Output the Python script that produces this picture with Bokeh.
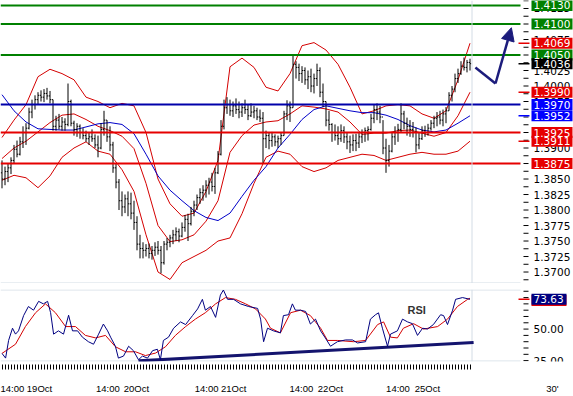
from bokeh.plotting import figure
from bokeh.models import Range1d, FixedTicker, Arrow, NormalHead
from bokeh.layouts import column
from bokeh.embed import file_html
from bokeh.resources import INLINE
from bokeh.core.properties import value

# ---------------- data ----------------
bar = list(range(157))
opens = [1.3860, 1.3850, 1.3862, 1.3868, 1.3880, 1.3898, 1.3890, 1.3910, 1.3925, 1.3932,
         1.3958, 1.3970, 1.3978, 1.3985, 1.3982, 1.3988, 1.3984, 1.3978, 1.3935, 1.3945,
         1.3935, 1.3942, 1.3938, 1.3975, 1.3940, 1.3930, 1.3935, 1.3925, 1.3920, 1.3915,
         1.3918, 1.3915, 1.3905, 1.3900, 1.3930, 1.3945, 1.3918, 1.3905, 1.3868, 1.3845,
         1.3815, 1.3805, 1.3818, 1.3810, 1.3795, 1.3780, 1.3745, 1.3738, 1.3735, 1.3738,
         1.3730, 1.3735, 1.3740, 1.3735, 1.3715, 1.3745, 1.3748, 1.3755, 1.3760, 1.3765,
         1.3758, 1.3772, 1.3785, 1.3778, 1.3798, 1.3808, 1.3820, 1.3828, 1.3832, 1.3840,
         1.3845, 1.3838, 1.3860, 1.3890, 1.3935, 1.3965, 1.3970, 1.3960, 1.3968, 1.3962,
         1.3958, 1.3965, 1.3962, 1.3952, 1.3958, 1.3960, 1.3950, 1.3948, 1.3915, 1.3920,
         1.3912, 1.3918, 1.3910, 1.3915, 1.3920, 1.3955, 1.3968, 1.3965, 1.4035, 1.4030,
         1.4020, 1.4025, 1.4010, 1.4015, 1.4000, 1.4012, 1.4025, 1.3990, 1.3975, 1.3945,
         1.3938, 1.3925, 1.3920, 1.3915, 1.3928, 1.3918, 1.3910, 1.3905, 1.3912, 1.3908,
         1.3918, 1.3925, 1.3928, 1.3930, 1.3948, 1.3962, 1.3958, 1.3950, 1.3900, 1.3880,
         1.3895, 1.3918, 1.3925, 1.3930, 1.3955, 1.3940, 1.3935, 1.3930, 1.3925, 1.3905,
         1.3915, 1.3928, 1.3925, 1.3932, 1.3940, 1.3948, 1.3950, 1.3945, 1.3955, 1.3960,
         1.3985, 1.3995, 1.4012, 1.4020, 1.4032, 1.4030, 1.4038]
highs = [1.3880, 1.3870, 1.3875, 1.3885, 1.3905, 1.3912, 1.3918, 1.3935, 1.3940, 1.3965,
         1.3978, 1.3985, 1.3990, 1.3993, 1.3995, 1.3997, 1.3992, 1.3978, 1.3952, 1.3955,
         1.3950, 1.3948, 1.4004, 1.3978, 1.3944, 1.3940, 1.3938, 1.3932, 1.3928, 1.3925,
         1.3930, 1.3922, 1.3920, 1.3940, 1.3960, 1.3945, 1.3935, 1.3910, 1.3875, 1.3850,
         1.3830, 1.3825, 1.3830, 1.3828, 1.3815, 1.3790, 1.3760, 1.3748, 1.3745, 1.3746,
         1.3742, 1.3748, 1.3750, 1.3742, 1.3750, 1.3755, 1.3760, 1.3768, 1.3772, 1.3770,
         1.3780, 1.3792, 1.3794, 1.3805, 1.3815, 1.3825, 1.3835, 1.3840, 1.3848, 1.3852,
         1.3860, 1.3868, 1.3895, 1.3945, 1.3978, 1.3982, 1.3978, 1.3975, 1.3980, 1.3975,
         1.3972, 1.3978, 1.3970, 1.3972, 1.3968, 1.3965, 1.3962, 1.3958, 1.3928, 1.3925,
         1.3926, 1.3922, 1.3920, 1.3925, 1.3960, 1.3977, 1.3975, 1.4049, 1.4040, 1.4036,
         1.4032, 1.4030, 1.4025, 1.4028, 1.4020, 1.4036, 1.4030, 1.4004, 1.3975, 1.3960,
         1.3940, 1.3938, 1.3935, 1.3938, 1.3935, 1.3925, 1.3920, 1.3922, 1.3923, 1.3925,
         1.3930, 1.3933, 1.3935, 1.3955, 1.3970, 1.3972, 1.3968, 1.3945, 1.3915, 1.3905,
         1.3925, 1.3935, 1.3939, 1.3972, 1.3960, 1.3949, 1.3945, 1.3942, 1.3933, 1.3925,
         1.3935, 1.3936, 1.3939, 1.3945, 1.3952, 1.3958, 1.3960, 1.3962, 1.3966, 1.3990,
         1.4000, 1.4020, 1.4028, 1.4040, 1.4046, 1.4042, 1.4044]
lows = [1.3835, 1.3840, 1.3845, 1.3858, 1.3875, 1.3885, 1.3888, 1.3900, 1.3905, 1.3930,
        1.3948, 1.3962, 1.3970, 1.3975, 1.3974, 1.3978, 1.3972, 1.3928, 1.3928, 1.3930,
        1.3928, 1.3928, 1.3935, 1.3935, 1.3920, 1.3918, 1.3915, 1.3914, 1.3910, 1.3905,
        1.3910, 1.3900, 1.3885, 1.3898, 1.3920, 1.3910, 1.3895, 1.3860, 1.3835, 1.3800,
        1.3790, 1.3795, 1.3790, 1.3785, 1.3768, 1.3735, 1.3722, 1.3722, 1.3725, 1.3722,
        1.3720, 1.3726, 1.3728, 1.3698, 1.3712, 1.3735, 1.3740, 1.3745, 1.3750, 1.3748,
        1.3756, 1.3765, 1.3750, 1.3775, 1.3790, 1.3800, 1.3810, 1.3815, 1.3820, 1.3825,
        1.3830, 1.3826, 1.3858, 1.3888, 1.3930, 1.3955, 1.3952, 1.3950, 1.3955, 1.3948,
        1.3950, 1.3955, 1.3945, 1.3950, 1.3948, 1.3945, 1.3942, 1.3875, 1.3900, 1.3898,
        1.3902, 1.3903, 1.3900, 1.3905, 1.3920, 1.3945, 1.3942, 1.3965, 1.4012, 1.4008,
        1.4005, 1.4002, 1.3995, 1.3990, 1.3988, 1.4000, 1.3982, 1.3966, 1.3935, 1.3928,
        1.3910, 1.3912, 1.3905, 1.3910, 1.3908, 1.3898, 1.3892, 1.3895, 1.3895, 1.3900,
        1.3908, 1.3910, 1.3912, 1.3928, 1.3940, 1.3945, 1.3940, 1.3890, 1.3860, 1.3870,
        1.3893, 1.3905, 1.3910, 1.3925, 1.3930, 1.3920, 1.3918, 1.3917, 1.3893, 1.3898,
        1.3913, 1.3918, 1.3920, 1.3928, 1.3932, 1.3935, 1.3938, 1.3935, 1.3940, 1.3960,
        1.3975, 1.3990, 1.4005, 1.4018, 1.4025, 1.4022, 1.4025]
closes = [1.3850, 1.3862, 1.3868, 1.3880, 1.3898, 1.3890, 1.3910, 1.3925, 1.3932, 1.3958,
          1.3970, 1.3978, 1.3985, 1.3982, 1.3988, 1.3984, 1.3978, 1.3935, 1.3945, 1.3935,
          1.3942, 1.3938, 1.3975, 1.3940, 1.3930, 1.3935, 1.3925, 1.3920, 1.3915, 1.3918,
          1.3915, 1.3905, 1.3900, 1.3930, 1.3945, 1.3918, 1.3905, 1.3868, 1.3845, 1.3815,
          1.3805, 1.3818, 1.3810, 1.3795, 1.3780, 1.3745, 1.3738, 1.3735, 1.3738, 1.3730,
          1.3735, 1.3740, 1.3735, 1.3715, 1.3745, 1.3748, 1.3755, 1.3760, 1.3765, 1.3758,
          1.3772, 1.3785, 1.3778, 1.3798, 1.3808, 1.3820, 1.3828, 1.3832, 1.3840, 1.3845,
          1.3838, 1.3860, 1.3890, 1.3935, 1.3965, 1.3970, 1.3960, 1.3968, 1.3962, 1.3958,
          1.3965, 1.3962, 1.3952, 1.3958, 1.3960, 1.3950, 1.3948, 1.3915, 1.3920, 1.3912,
          1.3918, 1.3910, 1.3915, 1.3920, 1.3955, 1.3968, 1.3965, 1.4035, 1.4030, 1.4020,
          1.4025, 1.4010, 1.4015, 1.4000, 1.4012, 1.4025, 1.3990, 1.3975, 1.3945, 1.3938,
          1.3925, 1.3920, 1.3915, 1.3928, 1.3918, 1.3910, 1.3905, 1.3912, 1.3908, 1.3918,
          1.3925, 1.3928, 1.3930, 1.3948, 1.3962, 1.3958, 1.3950, 1.3900, 1.3880, 1.3895,
          1.3918, 1.3925, 1.3930, 1.3955, 1.3940, 1.3935, 1.3930, 1.3925, 1.3905, 1.3915,
          1.3928, 1.3925, 1.3932, 1.3940, 1.3948, 1.3950, 1.3945, 1.3955, 1.3960, 1.3985,
          1.3995, 1.4012, 1.4020, 1.4032, 1.4030, 1.4038, 1.4036]

band_bar = [0, 4, 8, 12, 16, 20, 24, 28, 32, 36, 40, 44, 48, 52, 56, 60, 64, 68, 72, 76,
            80, 84, 88, 92, 96, 100, 104, 108, 112, 116, 120, 124, 128, 132, 136, 140, 144,
            148, 152, 156]
band_upper = [1.3917, 1.3945, 1.3970, 1.4015, 1.4027, 1.4020, 1.4010, 1.3982, 1.3975, 1.3965,
              1.3972, 1.3968, 1.3925, 1.3850, 1.3810, 1.3790, 1.3795, 1.3830, 1.3880, 1.4031,
              1.4045, 1.4030, 1.3998, 1.3992, 1.4020, 1.4065, 1.4070, 1.4058, 1.4035, 1.3998,
              1.3955, 1.3960, 1.3968, 1.3970, 1.3968, 1.3955, 1.3948, 1.3960, 1.4010, 1.4069]
band_mid = [1.3883, 1.3900, 1.3911, 1.3926, 1.3941, 1.3953, 1.3955, 1.3946, 1.3935, 1.3928,
            1.3919, 1.3899, 1.3843, 1.3775, 1.3749, 1.3752, 1.3760, 1.3782, 1.3815, 1.3893,
            1.3920, 1.3937, 1.3942, 1.3944, 1.3955, 1.3968, 1.3966, 1.3963, 1.3958, 1.3942,
            1.3922, 1.3924, 1.3924, 1.3928, 1.3929, 1.3924, 1.3919, 1.3925, 1.3952, 1.3990]
band_lower = [1.3848, 1.3856, 1.3852, 1.3836, 1.3855, 1.3885, 1.3900, 1.3910, 1.3895, 1.3890,
              1.3865, 1.3830, 1.3760, 1.3700, 1.3688, 1.3715, 1.3725, 1.3735, 1.3750, 1.3755,
              1.3794, 1.3843, 1.3885, 1.3895, 1.3890, 1.3870, 1.3862, 1.3868, 1.3880, 1.3885,
              1.3890, 1.3888, 1.3880, 1.3885, 1.3890, 1.3893, 1.3890, 1.3890, 1.3895, 1.3911]
ma_slow = [1.3986, 1.3960, 1.3942, 1.3931, 1.3930, 1.3929, 1.3929, 1.3934, 1.3939, 1.3941,
           1.3938, 1.3923, 1.3890, 1.3855, 1.3832, 1.3815, 1.3799, 1.3788, 1.3783, 1.3795,
           1.3822, 1.3848, 1.3870, 1.3900, 1.3922, 1.3946, 1.3962, 1.3968, 1.3964, 1.3960,
           1.3957, 1.3957, 1.3953, 1.3946, 1.3936, 1.3929, 1.3926, 1.3929, 1.3940, 1.3952]

rsi_bar = [0, 1.2, 2.2, 3.5, 4.5, 5.5, 7.2, 8.8, 10.5, 12.2, 13.8, 15.2, 16.2, 17.2, 18.8,
           20.5, 22.2, 23.5, 25.2, 26.8, 28.8, 30.5, 32.2, 33.8, 35.2, 36.2, 37.8, 38.8, 40.5,
           42.2, 43.8, 45.5, 46.8, 48.5, 50.2, 51.8, 52.8, 53.8, 55.5, 57.2, 59.5, 61.2, 63.5,
           65.2, 66.8, 67.8, 69.5, 71.2, 72.8, 73.8, 75.2, 77.2, 79.5, 82.2, 85.2, 86.2, 87.2,
           88.5, 90.5, 92.8, 93.8, 95.5, 96.8, 97.8, 99.5, 101.2, 102.8, 104.5, 106.2, 107.8,
           109.5, 111.8, 114.5, 116.8, 118.5, 121.2, 122.8, 124.5, 125.5, 126.8, 128.5, 129.5,
           131.8, 133.5, 135.2, 136.8, 138.5, 140.2, 141.8, 143.8, 146.2, 147.2, 148.5, 150.2,
           151.2, 153.5, 156]
rsi = [30.7, 27.0, 41.0, 50.7, 46.0, 48.6, 60.7, 67.9, 65.0, 72.0, 70.0, 72.0, 63.0, 46.0,
       48.6, 46.0, 61.0, 48.6, 48.6, 43.6, 40.0, 38.0, 46.0, 54.0, 48.6, 43.6, 36.4, 27.0,
       28.6, 36.4, 32.9, 25.7, 28.6, 27.0, 32.9, 34.0, 25.7, 41.0, 43.6, 50.7, 55.7, 53.6,
       60.7, 66.0, 73.6, 65.0, 67.9, 59.3, 77.0, 81.0, 73.6, 73.6, 70.0, 67.9, 66.4, 57.9,
       40.0, 50.7, 48.6, 47.0, 60.7, 61.4, 70.0, 65.0, 65.0, 64.0, 54.0, 57.9, 48.6, 42.9,
       36.4, 40.0, 41.4, 41.4, 39.0, 40.0, 57.9, 61.4, 62.9, 50.7, 36.4, 46.0, 48.6, 57.9,
       55.7, 54.3, 45.0, 50.7, 50.0, 53.6, 61.4, 60.7, 53.6, 65.0, 73.6, 75.0, 73.63]
sig_bar = [0, 4.5, 7.8, 11.2, 14.5, 17.8, 21.2, 24.5, 27.8, 31.2, 34.5, 37.8, 41.2, 44.5,
           47.8, 51.2, 54.5, 57.8, 61.2, 64.5, 67.8, 71.2, 74.5, 77.8, 81.2, 84.5, 87.8, 89.5,
           92.8, 96.2, 99.5, 102.8, 106.2, 108.5, 111.8, 117.2, 121.2, 125.2, 127.2, 129.5,
           131.8, 133.8, 137.2, 140.5, 145.2, 148.5, 151.8, 155.2, 156]
rsi_signal = [30.7, 38.0, 52.0, 63.0, 70.0, 63.0, 52.0, 52.0, 45.0, 43.0, 45.0, 36.0, 32.0,
              32.0, 29.0, 31.0, 36.0, 45.0, 52.0, 58.0, 63.0, 70.0, 75.0, 73.6, 70.0, 66.0,
              58.0, 50.7, 47.0, 63.0, 65.0, 60.7, 50.7, 41.0, 41.0, 40.0, 41.0, 53.6, 55.7,
              43.6, 43.0, 50.7, 54.3, 50.0, 52.0, 57.9, 67.9, 73.6, 74.5]
rsi_trend_bar = [45.5, 157.2]
rsi_trend = [24.8, 39.3]

green_levels = [1.4130, 1.4100, 1.4050]
red_levels = [1.3925, 1.3875]
blue_levels = [1.3970]
level_tags = [1.4130, 1.4100, 1.4069, 1.4050, 1.4036, 1.3990, 1.3970, 1.3952, 1.3925,
              1.3911, 1.3875]
level_tag_colors = ["#008000", "#008000", "#E60000", "#008000", "#000000", "#E60000",
                    "#0000FF", "#0000FF", "#E60000", "#E60000", "#E60000"]
indicator_tags = [1.4069, 1.4036, 1.3990, 1.3952, 1.3911]
indicator_tag_colors = ["#E60000", "#000000", "#E60000", "#0000FF", "#E60000"]
rsi_last = 73.63
arrow_bar = [157.8, 164.5, 169.8]
arrow_price = [1.4030, 1.4004, 1.4094]

price_ticks = [1.3700, 1.3725, 1.3750, 1.3775, 1.3800, 1.3825, 1.3850, 1.3875, 1.3900,
               1.3925, 1.3950, 1.3975, 1.4000, 1.4025, 1.4050, 1.4075, 1.4100, 1.4125]
price_minor = [1.36875, 1.37125, 1.37375, 1.37625, 1.37875, 1.38125, 1.38375, 1.38625,
               1.38875, 1.39125, 1.39375, 1.39625, 1.39875, 1.40125, 1.40375, 1.40625,
               1.40875, 1.41125, 1.41375]
rsi_ticks = [25, 50, 75]
rsi_minor = [30, 35, 40, 45, 55, 60, 65, 70, 80]
xtick_pos = [3.2, 12.5, 35.3, 44.8, 68.2, 77.2, 99.8, 109.5, 132.0, 141.8, 183.5]
xtick_labels = ["14:00", "19Oct", "14:00", "20Oct", "14:00", "21Oct", "14:00", "22Oct",
                "14:00", "25Oct", "30'"]

# ---------------- layout constants (bar index units / pixels) ----------------
X0, X1 = -0.5, 190.5          # whole canvas width, 3 px per bar
PLOT_RIGHT = 172.83           # right edge of the drawing area
LAST_EDGE = 156.67            # grey separator after the last bar
TICK_A, TICK_B = 173.83, 175.5
DASH_A, DASH_B = 172.17, 175.83
LABEL_X = 177.2
TAG_X = 183.33
FONT = "DejaVu Sans"
GRAYLINE = "#D3DCE5"
NAVY = "#000080"
BAND_RED = "#D40000"

x_range = Range1d(X0, X1)

# ---------------- price panel ----------------
p = figure(width=573, height=283, x_range=x_range, y_range=Range1d(1.36815, 1.41379),
           output_backend="svg", toolbar_location=None, x_axis_location=None,
           y_axis_location=None, min_border_left=0, min_border_right=0, min_border_top=0,
           min_border_bottom=0)
p.outline_line_color = None
p.grid.visible = False

p.line(band_bar, band_upper, line_color=BAND_RED, line_width=1)
p.line(band_bar, band_mid, line_color=BAND_RED, line_width=1)
p.line(band_bar, band_lower, line_color=BAND_RED, line_width=1)
p.line(band_bar, ma_slow, line_color="#0000C8", line_width=1)

p.segment(x0=bar, y0=lows, x1=bar, y1=highs, line_color="black", line_width=1)
p.segment(x0=[b - 0.4 for b in bar], y0=opens, x1=bar, y1=opens, line_color="black", line_width=1)
p.segment(x0=bar, y0=closes, x1=[b + 0.4 for b in bar], y1=closes, line_color="black", line_width=1)

def hlines(fig, levels, color, width):
    fig.segment(x0=[X0] * len(levels), y0=levels, x1=[PLOT_RIGHT] * len(levels), y1=levels,
                line_color=color, line_width=width)

hlines(p, green_levels, "#008000", 2)
hlines(p, red_levels, "#E60000", 2)
hlines(p, blue_levels, "#0000AA", 2)
p.segment(x0=[X0], y0=[1.36823], x1=[PLOT_RIGHT], y1=[1.36823], line_color=GRAYLINE, line_width=1)
p.segment(x0=[LAST_EDGE], y0=[1.36815], x1=[LAST_EDGE], y1=[1.41379], line_color=GRAYLINE, line_width=1)

# forecast arrow
p.line(arrow_bar[:2], arrow_price[:2], line_color="#1C1C7C", line_width=2.5)
p.add_layout(Arrow(x_start=arrow_bar[1], y_start=arrow_price[1], x_end=arrow_bar[2],
                   y_end=arrow_price[2], line_color="#1C1C7C", line_width=2.5,
                   end=NormalHead(size=13, fill_color="#1C1C7C", line_color="#1C1C7C")))

# price scale (right)
all_ticks = price_ticks + price_minor
p.segment(x0=[TICK_A] * len(all_ticks), y0=all_ticks, x1=[TICK_B] * len(all_ticks),
          y1=all_ticks, line_color="black", line_width=1)
p.text(x=[LABEL_X] * len(price_ticks), y=price_ticks, text=[f"{t:.4f}" for t in price_ticks],
       text_font=value(FONT), text_font_size="10.5px", text_baseline="middle",
       text_align="left", text_color="black")
p.segment(x0=[DASH_A] * len(indicator_tags), y0=indicator_tags,
          x1=[DASH_B] * len(indicator_tags), y1=indicator_tags,
          line_color=indicator_tag_colors, line_width=1.5)
p.rect(x=[TAG_X] * len(level_tags), y=level_tags, width=41, height=11, width_units="screen",
       height_units="screen", fill_color=level_tag_colors, line_color=None)
p.text(x=[LABEL_X] * len(level_tags), y=level_tags, text=[f"{t:.4f}" for t in level_tags],
       text_font=value(FONT), text_font_size="10.5px", text_baseline="middle",
       text_align="left", text_color="white")

# ---------------- RSI panel ----------------
r = figure(width=573, height=113, x_range=x_range, y_range=Range1d(24.3, 81.4),
           output_backend="svg", toolbar_location=None, x_axis_location="below",
           y_axis_location=None, min_border_left=0, min_border_right=0, min_border_top=6,
           min_border_bottom=27)
r.outline_line_color = None
r.grid.visible = False

rx = r.xaxis[0]
rx.ticker = FixedTicker(ticks=xtick_pos, minor_ticks=bar)
rx.major_label_overrides = {pos: lab for pos, lab in zip(xtick_pos, xtick_labels)}
rx.axis_line_color = None
rx.major_tick_in = 0
rx.major_tick_out = 0
rx.minor_tick_in = -3
rx.minor_tick_out = 8
rx.minor_tick_line_color = "black"
rx.major_label_standoff = 13
rx.major_label_text_font = "Liberation Sans"
rx.major_label_text_font_size = "9.5px"
rx.major_label_text_color = "black"

r.segment(x0=[X0, X0], y0=[81.04, 24.66], x1=[PLOT_RIGHT, PLOT_RIGHT], y1=[81.04, 24.66],
          line_color=GRAYLINE, line_width=1)
r.segment(x0=[LAST_EDGE], y0=[24.3], x1=[LAST_EDGE], y1=[81.4], line_color=GRAYLINE, line_width=1)

r.line(rsi_trend_bar, rsi_trend, line_color="#14146E", line_width=3)
r.line(sig_bar, rsi_signal, line_color=BAND_RED, line_width=1)
r.line(rsi_bar, rsi, line_color=NAVY, line_width=1)

r.text(x=[138.2], y=[65], text=["RSI"], text_font=value("Liberation Sans"),
       text_font_size="11px", text_font_style="bold", text_color="#333333",
       text_align="center", text_baseline="middle")

rsi_all = rsi_ticks + rsi_minor
r.segment(x0=[TICK_A] * len(rsi_all), y0=rsi_all, x1=[TICK_B] * len(rsi_all), y1=rsi_all,
          line_color="black", line_width=1)
r.text(x=[LABEL_X] * len(rsi_ticks), y=rsi_ticks, text=[f"{t:.2f}" for t in rsi_ticks],
       text_font=value(FONT), text_font_size="10.5px", text_baseline="middle",
       text_align="left", text_color="black")
r.segment(x0=[DASH_A], y0=[rsi_last], x1=[DASH_B], y1=[rsi_last], line_color="#E60000",
          line_width=1.5)
r.rect(x=[TAG_X - 1.0], y=[rsi_last - 0.9], width=35, height=11, width_units="screen",
       height_units="screen", fill_color="#E60000", line_color=None)
r.rect(x=[TAG_X - 1.0], y=[rsi_last], width=35, height=11, width_units="screen",
       height_units="screen", fill_color=NAVY, line_color=None)
r.text(x=[LABEL_X], y=[rsi_last], text=[f"{rsi_last:.2f}"], text_font=value(FONT),
       text_font_size="10.5px", text_baseline="middle", text_align="left", text_color="white")

layout = column(p, r, spacing=0)
open("out.html", "w").write(file_html(layout, INLINE))
